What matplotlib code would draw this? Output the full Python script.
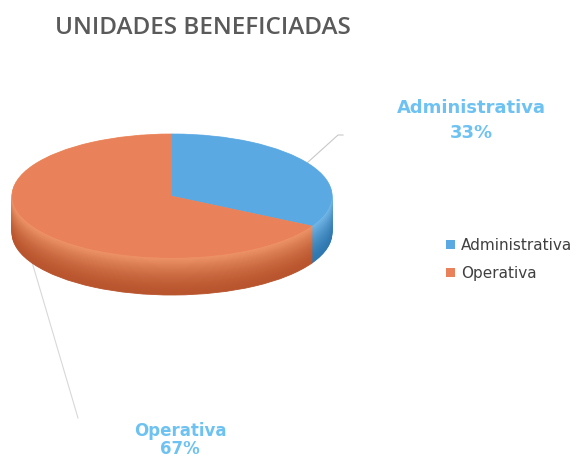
import matplotlib
matplotlib.use("Agg")
import matplotlib.pyplot as plt
import numpy as np
from matplotlib.colors import to_rgb

categories = ["Administrativa", "Operativa"]
values = [33, 67]
pct_labels = ["33%", "67%"]
title = "UNIDADES BENEFICIADAS"

top_colors = ["#5AA9E2", "#E9825A"]
side_top = ["#74B8E8", "#EE9468"]
side_bot = ["#2F78B0", "#B9552E"]

W, H = 579, 459
fig = plt.figure(figsize=(W / 100, H / 100), dpi=100)

# background axes in pixel coordinates
ax0 = fig.add_axes([0, 0, 1, 1])
ax0.set_xlim(0, W)
ax0.set_ylim(H, 0)
ax0.axis("off")

# pie axes (elliptical projection)
cx, cy, rx, ry, depth = 172, 196, 160, 62, 37
top_px, bot_px = 110, 320
left_px = cx - rx
axp = fig.add_axes([left_px / W, 1 - bot_px / H, 2 * rx / W, (bot_px - top_px) / H])
d_units = depth / ry

N = 40
for k in range(N + 1):
    t = k / N  # 0 bottom -> 1 top
    d = d_units * (1 - t)
    s = t ** 1.6
    cols = [tuple(np.array(to_rgb(b)) * (1 - s) + np.array(to_rgb(a)) * s)
            for a, b in zip(side_top, side_bot)]
    axp.pie(values, colors=cols, startangle=90, counterclock=False,
            center=(0, -d), radius=1,
            wedgeprops=dict(linewidth=0.6))
    for w, c in zip(axp.patches[-2:], cols):
        w.set_edgecolor(c)

wedges, _ = axp.pie(values, colors=top_colors, startangle=90, counterclock=False,
                    center=(0, 0), radius=1, wedgeprops=dict(linewidth=0))
axp.set_aspect("auto")
axp.set_xlim(-1, 1)
axp.set_ylim(-(bot_px - cy) / ry, (cy - top_px) / ry)
axp.axis("off")

# title
ax0.text(55, 28, title, fontsize=17.5, fontweight="semibold", family="Open Sans",
         color="#5A5A5A", ha="left", va="center")

# data labels
lab_color = "#6EC2F2"
ax0.text(471, 108, categories[0], fontsize=13, fontweight="bold", family="DejaVu Sans",
         color=lab_color, ha="center", va="center")
ax0.text(471, 133, pct_labels[0], fontsize=13, fontweight="bold", family="DejaVu Sans",
         color=lab_color, ha="center", va="center")
ax0.text(180, 431, categories[1], fontsize=12, fontweight="bold", family="DejaVu Sans",
         color=lab_color, ha="center", va="center")
ax0.text(180, 449, pct_labels[1], fontsize=12, fontweight="bold", family="DejaVu Sans",
         color=lab_color, ha="center", va="center")

# leader lines
ax0.plot([307, 338, 343], [163, 135, 135], color="#C8C8C8", lw=0.8)
ax0.plot([32, 78], [262, 418], color="#D8D8D8", lw=0.8)

# legend
fig.legend(wedges, categories, loc="upper left",
           bbox_to_anchor=(446 / W, 1 - 238 / H), frameon=False,
           prop=dict(family="DejaVu Sans", size=11),
           handlelength=0.6, handleheight=0.6, handletextpad=0.4,
           labelspacing=0.85, labelcolor="#404040", borderpad=0, borderaxespad=0)

fig.savefig("out.png", dpi=100)
